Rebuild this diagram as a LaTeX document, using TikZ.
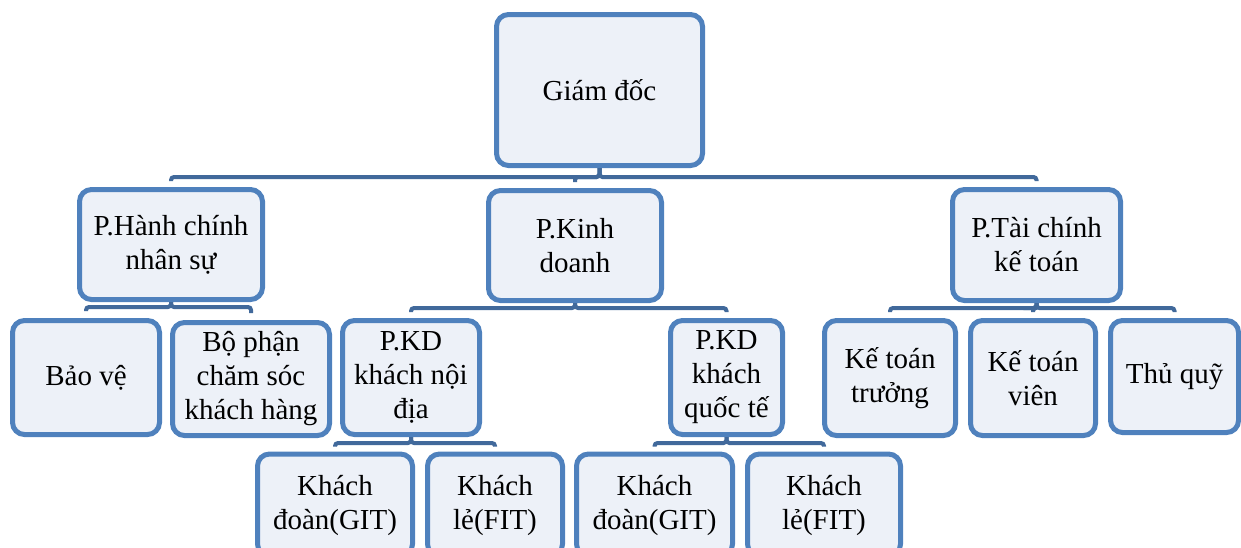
\documentclass[tikz,border=0pt]{standalone}
\usepackage{fontspec}
\setmainfont{Liberation Serif}
\usetikzlibrary{calc}
\definecolor{boxline}{HTML}{4F81BD}
\definecolor{boxfill}{HTML}{EDF1F8}
\definecolor{connline}{HTML}{41699B}
\begin{document}
\begin{tikzpicture}[x=1pt,y=-1pt,
  orgbox/.style={draw=boxline, fill=boxfill, line width=5pt, rounded corners=12pt,
    align=center, inner sep=0pt, text=black,
    font=\fontsize{29}{34}\selectfont},
  conn/.style={draw=connline, line width=4pt, rounded corners=3pt}]
\useasboundingbox (0,0) rectangle (1241,547);
\clip (0,0) rectangle (1241,547);
% level 0
\node[orgbox, minimum width=206pt, minimum height=151pt] (gd) at (599.5,90) {Giám đốc};
% level 1
\node[orgbox, minimum width=183pt, minimum height=110pt] (hc) at (171,244.5) {P.Hành chính\\nhân sự};
\node[orgbox, minimum width=173pt, minimum height=110pt] (kd) at (575,245.5) {P.Kinh\\doanh};
\node[orgbox, minimum width=168pt, minimum height=111pt] (tc) at (1036.5,245) {P.Tài chính\\kế toán};
% level 2
\node[orgbox, minimum width=147pt, minimum height=114pt] (bv) at (86,377.5) {Bảo vệ};
\node[orgbox, minimum width=157pt, minimum height=113pt] (cs) at (251,379) {Bộ phận\\chăm sóc\\khách hàng};
\node[orgbox, minimum width=137pt, minimum height=114pt] (nd) at (411,377.5) {P.KD\\khách nội\\địa};
\node[orgbox, minimum width=112pt, minimum height=114pt] (qt) at (726.5,377.5) {P.KD\\khách\\quốc tế};
\node[orgbox, minimum width=131pt, minimum height=115pt] (ktt) at (890,378) {Kế toán\\trưởng};
\node[orgbox, minimum width=125pt, minimum height=115pt] (ktv) at (1033,378) {Kế toán\\viên};
\node[orgbox, minimum width=128pt, minimum height=112pt] (tq) at (1174.5,376.5) {Thủ quỹ};
% level 3
\node[orgbox, minimum width=155pt, minimum height=102pt] (g1) at (335,505) {Khách\\đoàn(GIT)};
\node[orgbox, minimum width=135pt, minimum height=102pt] (f1) at (495,505) {Khách\\lẻ(FIT)};
\node[orgbox, minimum width=156pt, minimum height=102pt] (g2) at (654.5,505) {Khách\\đoàn(GIT)};
\node[orgbox, minimum width=153pt, minimum height=102pt] (f2) at (824,505) {Khách\\lẻ(FIT)};
% connectors: short drop from parent, bar, short hook towards child
\foreach \c in {hc,kd,tc}{\draw[conn] (gd.south) -- ++(0,9) -| ($(\c.north)+(0,-6)$);}
\foreach \c in {bv,cs}{\draw[conn] (hc.south) -- ++(0,5) -| ($(\c.north)+(0,-7)$);}
\foreach \c in {nd,qt}{\draw[conn] (kd.south) -- ++(0,5) -| ($(\c.north)+(0,-6)$);}
\foreach \c in {ktt,ktv,tq}{\draw[conn] (tc.south) -- ++(0,5) -| ($(\c.north)+(0,-6)$);}
\foreach \c in {g1,f1}{\draw[conn] (nd.south) -- ++(0,6) -| ($(\c.north)+(0,-5)$);}
\foreach \c in {g2,f2}{\draw[conn] (qt.south) -- ++(0,6) -| ($(\c.north)+(0,-5)$);}
\end{tikzpicture}
\end{document}
